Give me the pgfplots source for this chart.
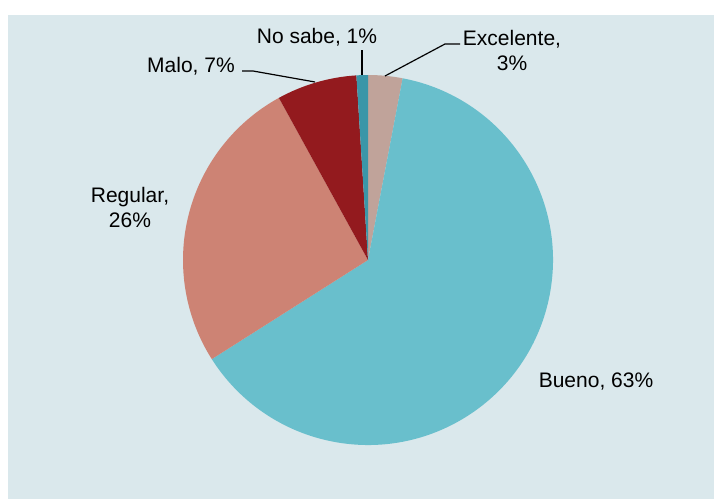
\documentclass[border=0pt]{standalone}
\usepackage{pgfplots}
\pgfplotsset{compat=1.18}
\usepackage{fontspec}
\setmainfont{Liberation Sans}
\definecolor{bg}{HTML}{DAE8EC}
\definecolor{cExc}{HTML}{C0A39A}
\definecolor{cBue}{HTML}{69BFCC}
\definecolor{cReg}{HTML}{CD8374}
\definecolor{cMal}{HTML}{931A1E}
\definecolor{cNo}{HTML}{3A96A8}
\tikzset{lbl/.style={inner sep=0pt, align=center, font=\fontsize{21}{25}\selectfont}}
\begin{document}
\begin{tikzpicture}
\begin{axis}[x=1pt, y=1pt, xmin=0, xmax=714, ymin=0, ymax=499,
  scale only axis, hide axis, clip=false]
\fill[white] (axis cs:0,0) rectangle (axis cs:714,499);
\fill[bg] (axis cs:8,0) rectangle (axis cs:714,484);
% pie: shares in percent, clockwise from 12 o'clock
\pgfplotsextra{
  \gdef\acc{0}
  \foreach \v/\c in {3/cExc, 63/cBue, 26/cReg, 7/cMal, 1/cNo}{
    \pgfmathsetmacro\aS{90-3.6*\acc}
    \pgfmathsetmacro\aE{90-3.6*(\acc+\v)}
    \fill[\c] (axis cs:368,239) -- ++(\aS:185pt)
      arc[start angle=\aS, end angle=\aE, radius=185pt] -- cycle;
    \pgfmathsetmacro\t{\acc+\v}\xdef\acc{\t}
  }
}
% leader lines
\draw[line width=1.2pt] (axis cs:362,424) -- (axis cs:362,449);
\draw[line width=1.2pt] (axis cs:385,423) -- (axis cs:445,455) -- (axis cs:460,455);
\draw[line width=1.2pt] (axis cs:242,428) -- (axis cs:253,428) -- (axis cs:315,417);
% labels
\node[lbl] at (axis cs:317,462) {No sabe, 1\%};
\node[lbl] at (axis cs:512,449) {Excelente,\\3\%};
\node[lbl] at (axis cs:191,433) {Malo, 7\%};
\node[lbl] at (axis cs:130,292) {Regular,\\26\%};
\node[lbl] at (axis cs:596,117) {Bueno, 63\%};
\end{axis}
\end{tikzpicture}
\end{document}
